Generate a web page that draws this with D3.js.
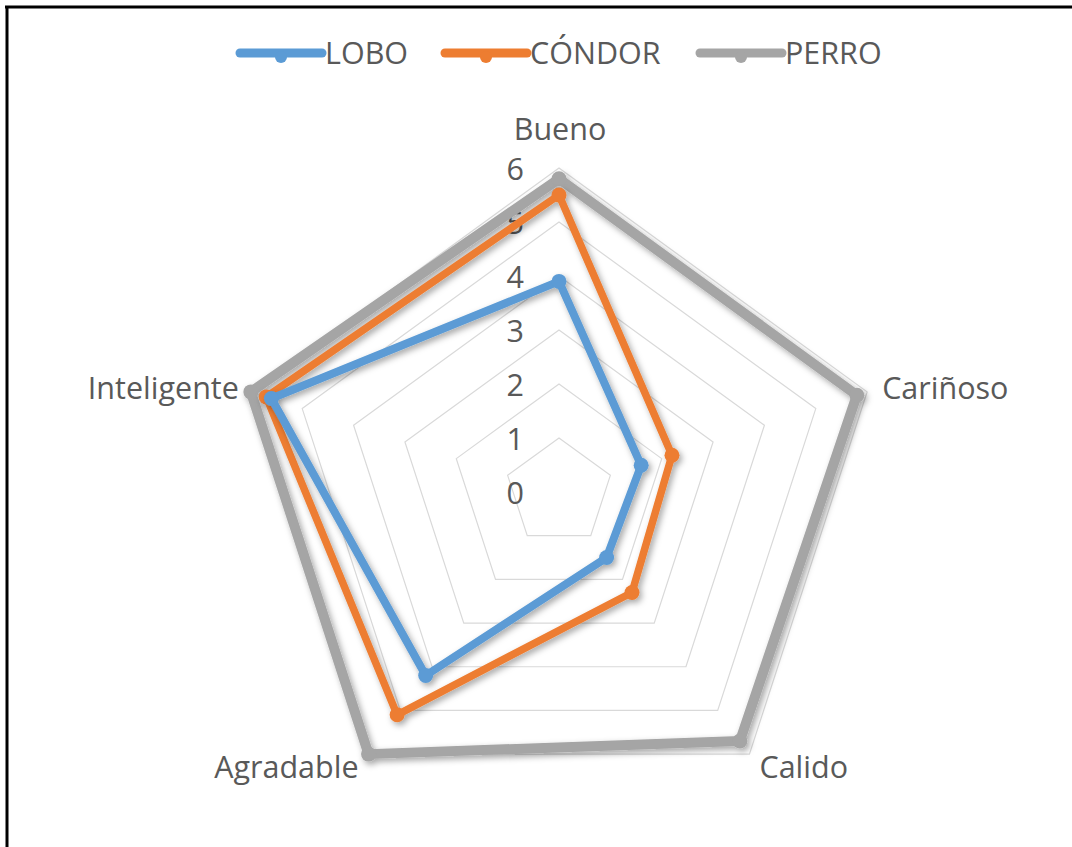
<!DOCTYPE html>
<html><head><meta charset="utf-8">
<script src="https://cdn.jsdelivr.net/npm/d3@7"></script>
<style>html,body{margin:0;padding:0;background:#fff;}svg{display:block;}</style>
</head><body>
<svg id="chart" width="1072" height="847"></svg>
<script>
const axes = ["Bueno", "Cariñoso", "Calido", "Agradable", "Inteligente"];
const seriesNames = ["LOBO", "CÓNDOR", "PERRO"];
const lobo = [3.9, 1.6, 1.5, 4.2, 5.6];
const condor = [5.5, 2.2, 2.3, 5.1, 5.7];
const perro = [5.8, 5.8, 5.7, 6.0, 6.0];
const ticks = [0, 1, 2, 3, 4, 5, 6];
const colors = ["#5b9bd5", "#ed7d31", "#a5a5a5"];

const svg = d3.select("#chart");
const W = 1072, H = 847;
const cx = 559, cy = 492;
const r = d3.scaleLinear().domain([0, 6]).range([0, 324]);
const ang = d3.scaleBand().domain(axes).range([0, 2 * Math.PI]).paddingInner(0).paddingOuter(0);
const a = d => ang(d);
const font = "'Open Sans', sans-serif";
const fs = 30.5;

const defs = svg.append("defs");
const f = defs.append("filter").attr("id", "sh").attr("x", "-20%").attr("y", "-20%").attr("width", "140%").attr("height", "140%");
f.append("feDropShadow").attr("dx", 2.5).attr("dy", 3).attr("stdDeviation", 3).attr("flood-color", "#000").attr("flood-opacity", 0.35);

// frame
svg.append("line").attr("x1", 5).attr("x2", W).attr("y1", 7).attr("y2", 7).attr("stroke", "#000").attr("stroke-width", 3);
svg.append("line").attr("x1", 7).attr("x2", 7).attr("y1", 6).attr("y2", H).attr("stroke", "#000").attr("stroke-width", 3);

const g = svg.append("g").attr("transform", `translate(${cx},${cy})`);

// grid
ticks.filter(t => t > 0).forEach(t => {
  g.append("path")
    .attr("d", d3.lineRadial().angle(d => a(d)).radius(() => r(t)).curve(d3.curveLinearClosed)(axes))
    .attr("fill", "none").attr("stroke", "#d9d9d9").attr("stroke-width", 1.2);
});

// tick labels
g.selectAll(".tick").data(ticks).join("text")
  .attr("x", -35).attr("y", d => -r(d))
  .attr("text-anchor", "end").attr("dominant-baseline", "central")
  .attr("font-family", font).attr("font-size", fs).attr("fill", "#595959")
  .text(d => d);

// axis labels
const lab = g.selectAll(".lab").data(axes).join("text")
  .attr("font-family", font).attr("font-size", fs).attr("fill", "#595959")
  .attr("dominant-baseline", "central")
  .text(d => d);
lab.each(function(d) {
  const th = a(d);
  const R = r(6);
  let x = R * Math.sin(th), y = -R * Math.cos(th), anchor = "middle";
  if (d === "Bueno") { y -= 40; x += 1; }
  else if (d === "Cariñoso") { x += 15; y -= 5; anchor = "start"; }
  else if (d === "Calido") { x += 10; y += 12; anchor = "start"; }
  else if (d === "Agradable") { x -= 10; y += 12; anchor = "end"; }
  else if (d === "Inteligente") { x -= 12; y -= 5; anchor = "end"; }
  d3.select(this).attr("x", x).attr("y", y).attr("text-anchor", anchor);
});

// series
const data = [lobo, condor, perro];
const widths = [8, 7.5, 10];
const order = [2, 1, 0];
order.forEach(i => {
  const vals = data[i];
  const pts = axes.map((ax, k) => [a(ax), r(vals[k])]);
  const sg = g.append("g").attr("filter", "url(#sh)");
  sg.append("path")
    .attr("d", d3.lineRadial().angle(p => p[0]).radius(p => p[1]).curve(d3.curveLinearClosed)(pts))
    .attr("fill", "none").attr("stroke", colors[i]).attr("stroke-width", widths[i])
    .attr("stroke-linejoin", "round");
  sg.selectAll("circle").data(pts).join("circle")
    .attr("cx", p => p[1] * Math.sin(p[0])).attr("cy", p => -p[1] * Math.cos(p[0]))
    .attr("r", 7.5).attr("fill", colors[i]);
});

// legend
const legX = [240, 445, 700];
const lg = svg.append("g");
seriesNames.forEach((n, i) => {
  const x0 = legX[i];
  const it = lg.append("g");
  it.append("line").attr("x1", x0).attr("x2", x0 + 82).attr("y1", 53).attr("y2", 53)
    .attr("stroke", colors[i]).attr("stroke-width", 9).attr("stroke-linecap", "round");
  it.append("circle").attr("cx", x0 + 41).attr("cy", 57).attr("r", 6).attr("fill", colors[i]);
  it.append("text").attr("x", x0 + 85).attr("y", 52).attr("dominant-baseline", "central")
    .attr("font-family", font).attr("font-size", fs).attr("fill", "#595959").text(n);
});
</script>
</body></html>
